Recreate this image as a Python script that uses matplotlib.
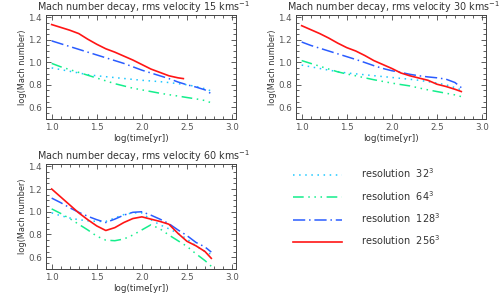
import numpy as np
import matplotlib
matplotlib.use("Agg")
import matplotlib.pyplot as plt
from matplotlib.ticker import MultipleLocator

# log(time[yr]) sample points
t = [1.0, 1.1, 1.2, 1.3, 1.4, 1.5, 1.6, 1.7, 1.8, 1.9, 2.0,
     2.1, 2.2, 2.3, 2.4, 2.5, 2.6, 2.7, 2.77]

# rms velocity 15 km/s
t15_256 = [1.0, 1.1, 1.2, 1.3, 1.4, 1.5, 1.6, 1.7, 1.8, 1.9, 2.0,
           2.1, 2.2, 2.3, 2.4, 2.46]
m15_256 = [1.335, 1.31, 1.285, 1.255, 1.205, 1.16, 1.12, 1.09, 1.055, 1.02, 0.98,
           0.94, 0.91, 0.88, 0.862, 0.855]
m15_128 = [1.19, 1.165, 1.14, 1.115, 1.09, 1.065, 1.04, 1.015, 0.99, 0.96, 0.93,
           0.905, 0.88, 0.855, 0.825, 0.80, 0.78, 0.755, 0.72]
m15_32 = [0.95, 0.935, 0.92, 0.905, 0.89, 0.88, 0.872, 0.864, 0.856, 0.848, 0.84,
          0.834, 0.828, 0.82, 0.81, 0.80, 0.785, 0.765, 0.745]
m15_64 = [0.99, 0.96, 0.935, 0.91, 0.885, 0.86, 0.835, 0.81, 0.79, 0.77, 0.755,
          0.74, 0.725, 0.712, 0.70, 0.687, 0.675, 0.66, 0.64]

# rms velocity 30 km/s
m30_256 = [1.325, 1.29, 1.255, 1.215, 1.17, 1.13, 1.10, 1.06, 1.015, 0.98, 0.945,
           0.905, 0.88, 0.86, 0.84, 0.805, 0.785, 0.76, 0.74]
m30_128 = [1.18, 1.15, 1.125, 1.10, 1.075, 1.05, 1.025, 0.998, 0.97, 0.945, 0.925,
           0.91, 0.893, 0.88, 0.87, 0.862, 0.85, 0.82, 0.775]
m30_32 = [0.975, 0.96, 0.945, 0.93, 0.917, 0.905, 0.897, 0.889, 0.881, 0.873, 0.865,
          0.857, 0.849, 0.84, 0.828, 0.815, 0.80, 0.775, 0.755]
m30_64 = [1.015, 0.99, 0.965, 0.94, 0.915, 0.896, 0.88, 0.862, 0.845, 0.83, 0.815,
          0.802, 0.79, 0.772, 0.755, 0.74, 0.725, 0.71, 0.695]

# rms velocity 60 km/s
m60_256 = [1.2, 1.13, 1.06, 0.99, 0.93, 0.875, 0.835, 0.86, 0.905, 0.94, 0.955,
           0.935, 0.915, 0.89, 0.81, 0.74, 0.70, 0.65, 0.59]
m60_128 = [1.12, 1.08, 1.035, 0.995, 0.96, 0.93, 0.905, 0.935, 0.97, 0.995, 1.0,
           0.97, 0.935, 0.895, 0.84, 0.79, 0.73, 0.69, 0.645]
m60_32 = [0.99, 0.965, 0.945, 0.93, 0.92, 0.915, 0.915, 0.945, 0.975, 0.99, 0.99,
          0.93, 0.885, 0.85, 0.81, 0.76, 0.70, 0.65, 0.625]
m60_64 = [1.025, 0.985, 0.94, 0.89, 0.84, 0.785, 0.75, 0.745, 0.76, 0.795, 0.84,
          0.885, 0.85, 0.795, 0.745, 0.695, 0.63, 0.57, 0.52]

velocities = [15, 30, 60]
labels = ["resolution  32$^3$", "resolution  64$^3$",
          "resolution  128$^3$", "resolution  256$^3$"]

c32, c64, c128, c256 = "#1ec8ff", "#14ee8c", "#2a5cff", "#ff1515"
ls32 = (0, (1, 3))
ls64 = (0, (7, 3, 1, 3, 1, 3, 1, 3))
ls128 = (0, (8, 2.5, 1, 2.5))
txtc = "#333333"

fig = plt.figure(figsize=(5, 3), dpi=100)
ax1 = fig.add_axes([0.092, 0.6033, 0.38, 0.3467])
ax2 = fig.add_axes([0.592, 0.6033, 0.38, 0.3467])
ax3 = fig.add_axes([0.092, 0.1033, 0.38, 0.35])


def style(ax, v):
    ax.set_xlim(0.937, 3.044)
    ax.set_ylim(0.496, 1.42)
    ax.xaxis.set_major_locator(MultipleLocator(0.5))
    ax.xaxis.set_minor_locator(MultipleLocator(0.1))
    ax.yaxis.set_major_locator(MultipleLocator(0.2))
    ax.yaxis.set_minor_locator(MultipleLocator(0.05))
    ax.xaxis.set_major_formatter(plt.FormatStrFormatter("%.1f"))
    ax.yaxis.set_major_formatter(plt.FormatStrFormatter("%.1f"))
    ax.tick_params(which="both", direction="in", top=True, right=True,
                   labelsize=6.3, colors="#444444", labelcolor="#555555",
                   width=0.6, pad=3)
    ax.tick_params(which="major", length=3.5)
    ax.tick_params(which="minor", length=2)
    for s in ax.spines.values():
        s.set_color("#444444")
        s.set_linewidth(0.7)
    ax.set_xlabel("log(time[yr])", fontsize=6.3, color=txtc, labelpad=1)
    ax.set_ylabel("log(Mach number)", fontsize=5.9, color=txtc, labelpad=0.8)
    ax.set_title("Mach number decay, rms velocity %d kms$^{-1}$" % v,
                 fontsize=6.9, color=txtc, pad=3, x=0.515)


ax1.plot(t, m15_32, color=c32, ls=ls32, lw=1.1)
ax1.plot(t, m15_64, color=c64, ls=ls64, lw=1.1)
ax1.plot(t, m15_128, color=c128, ls=ls128, lw=1.1)
ax1.plot(t15_256, m15_256, color=c256, lw=1.2)
style(ax1, velocities[0])

ax2.plot(t, m30_32, color=c32, ls=ls32, lw=1.1)
ax2.plot(t, m30_64, color=c64, ls=ls64, lw=1.1)
ax2.plot(t, m30_128, color=c128, ls=ls128, lw=1.1)
ax2.plot(t, m30_256, color=c256, lw=1.2)
style(ax2, velocities[1])

h1, = ax3.plot(t, m60_32, color=c32, ls=ls32, lw=1.1)
h2, = ax3.plot(t, m60_64, color=c64, ls=ls64, lw=1.1)
h3, = ax3.plot(t, m60_128, color=c128, ls=ls128, lw=1.1)
h4, = ax3.plot(t, m60_256, color=c256, lw=1.2)
style(ax3, velocities[2])

leg = fig.legend([h1, h2, h3, h4], labels, loc="center left",
                 bbox_to_anchor=(0.586, 0.31), frameon=False, fontsize=7,
                 handlelength=5.0, handletextpad=2.0, labelspacing=0.88,
                 borderpad=0, borderaxespad=0)
for tx in leg.get_texts():
    tx.set_color(txtc)

fig.savefig("out.png", dpi=100)
